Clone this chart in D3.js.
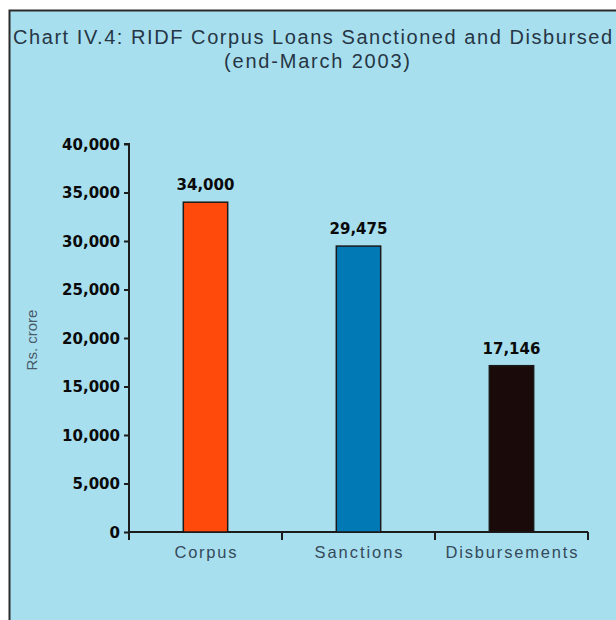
<!DOCTYPE html>
<html>
<head>
<meta charset="utf-8">
<script src="https://cdn.jsdelivr.net/npm/d3@7/dist/d3.min.js"></script>
<style>
  html, body { margin: 0; padding: 0; background: #ffffff; }
  svg { display: block; }
</style>
</head>
<body>
<svg id="chart" width="616" height="620"></svg>
<script>
// RIDF corpus, sanctions and disbursements (Rs. crore)
const categories = ["Corpus", "Sanctions", "Disbursements"];
const values = [34000, 29475, 17146];
const barColors = ["#ff4a0c", "#0079b4", "#1a0a0a"];
const yTicks = [0, 5000, 10000, 15000, 20000, 25000, 30000, 35000, 40000];
const titleLines = ["Chart IV.4: RIDF Corpus Loans Sanctioned and Disbursed", "(end-March 2003)"];
const yAxisTitle = "Rs. crore";

const svg = d3.select("#chart");
const fmt = d3.format(",");

// panel background and frame
svg.append("rect")
  .attr("x", 9.5).attr("y", 10.5)
  .attr("width", 640).attr("height", 640)
  .attr("fill", "#a8dfee")
  .attr("stroke", "#2b2b2b")
  .attr("stroke-width", 2);

// title
svg.append("text")
  .attr("x", 13).attr("y", 44)
  .attr("textLength", 599).attr("lengthAdjust", "spacing")
  .attr("font-family", "Liberation Sans, Arial, sans-serif")
  .attr("font-size", 20)
  .attr("fill", "#263645")
  .text(titleLines[0]);
svg.append("text")
  .attr("x", 317).attr("y", 68)
  .attr("text-anchor", "middle")
  .attr("textLength", 186).attr("lengthAdjust", "spacing")
  .attr("font-family", "Liberation Sans, Arial, sans-serif")
  .attr("font-size", 20)
  .attr("fill", "#263645")
  .text(titleLines[1]);

const x = d3.scaleBand()
  .domain(categories)
  .range([129, 588])
  .paddingInner(0.71)
  .paddingOuter(0.355);

const y = d3.scaleLinear()
  .domain([0, 40000])
  .range([532, 144]);

// y axis
const yAxis = svg.append("g")
  .attr("transform", "translate(129,0)")
  .call(d3.axisLeft(y).tickValues(yTicks).tickFormat(fmt).tickSize(5).tickPadding(4));
yAxis.select(".domain").attr("stroke", "#1c1c1c").attr("stroke-width", 2).attr("d", "M-5," + y(40000) + "H0V" + y(0));
yAxis.selectAll(".tick line").attr("stroke", "#1c1c1c").attr("stroke-width", 2);
yAxis.selectAll(".tick text")
  .attr("font-family", "DejaVu Sans, sans-serif")
  .attr("font-weight", "bold")
  .attr("font-size", 15)
  .attr("fill", "#0a0a0a")
  .attr("dy", "0.35em");

// x axis with boundary ticks between categories
const xAxis = svg.append("g")
  .attr("transform", "translate(0," + y(0) + ")");
xAxis.append("path")
  .attr("d", "M129,0H588")
  .attr("stroke", "#1c1c1c").attr("stroke-width", 2).attr("fill", "none");
const bounds = [x.range()[0]].concat(categories.map(c => x(c) + x.bandwidth() / 2 + x.step() / 2));
xAxis.selectAll("line.bound")
  .data(bounds)
  .join("line")
  .attr("class", "bound")
  .attr("x1", d => d).attr("x2", d => d)
  .attr("y1", 0).attr("y2", 8)
  .attr("stroke", "#1c1c1c").attr("stroke-width", 2);

const catWidths = [62, 88, 132];
xAxis.selectAll("text.cat")
  .data(categories)
  .join("text")
  .attr("class", "cat")
  .attr("x", d => x(d) + x.bandwidth() / 2)
  .attr("y", 26)
  .attr("text-anchor", "middle")
  .attr("textLength", (d, i) => catWidths[i])
  .attr("lengthAdjust", "spacing")
  .attr("font-family", "Liberation Sans, Arial, sans-serif")
  .attr("font-size", 16.5)
  .attr("fill", "#34495a")
  .text(d => d);

// bars
svg.selectAll("rect.bar")
  .data(values)
  .join("rect")
  .attr("class", "bar")
  .attr("x", (d, i) => x(categories[i]))
  .attr("y", d => y(d))
  .attr("width", x.bandwidth())
  .attr("height", d => y(0) - y(d))
  .attr("fill", (d, i) => barColors[i])
  .attr("stroke", "#1a1a1a")
  .attr("stroke-width", 1.5);

// value labels
svg.selectAll("text.val")
  .data(values)
  .join("text")
  .attr("class", "val")
  .attr("x", (d, i) => x(categories[i]) + x.bandwidth() / 2)
  .attr("y", d => y(d) - 12)
  .attr("text-anchor", "middle")
  .attr("font-family", "DejaVu Sans, sans-serif")
  .attr("font-weight", "bold")
  .attr("font-size", 15)
  .attr("fill", "#0a0a0a")
  .text(d => fmt(d));

// y axis title
svg.append("text")
  .attr("transform", "translate(37,340) rotate(-90)")
  .attr("text-anchor", "middle")
  .attr("font-family", "Liberation Sans, Arial, sans-serif")
  .attr("font-size", 15)
  .attr("fill", "#4a5b6a")
  .text(yAxisTitle);
</script>
</body>
</html>
